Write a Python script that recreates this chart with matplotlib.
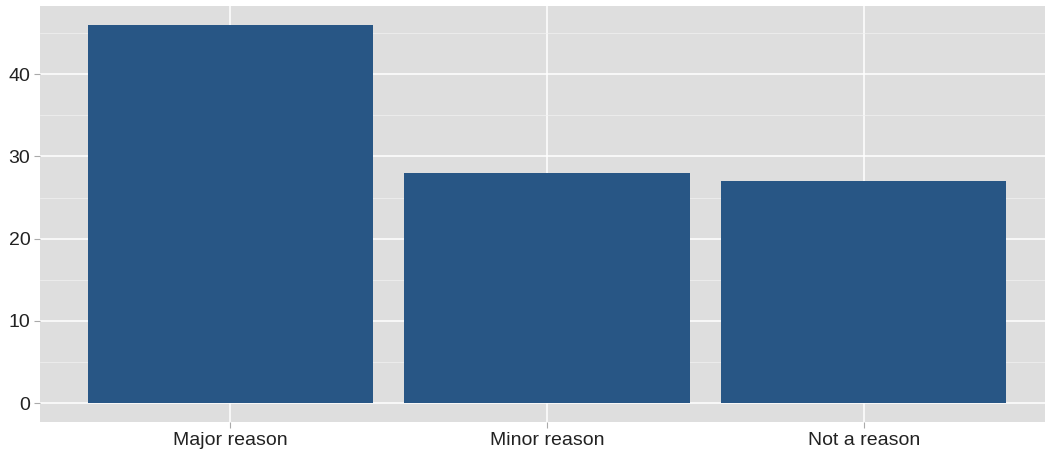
import numpy as np
import matplotlib.pyplot as plt

categories = ["Major reason", "Minor reason", "Not a reason"]
values = [46, 28, 27]

bar_color = "#285685"
panel_bg = "#DEDEDE"

plt.rcParams['font.family'] = ['Liberation Sans', 'DejaVu Sans']

fig = plt.figure(figsize=(10.45, 4.55), dpi=100)
# the panel runs a little past the right edge of the picture
ax = fig.add_axes([40 / 1045, 33 / 455, 1014 / 1045, 416 / 455])
ax.set_facecolor(panel_bg)

x = np.arange(1, len(categories) + 1)
ax.bar(x, values, width=0.9, color=bar_color, zorder=3)

ax.set_xlim(0.4, 3.6)
ax.set_ylim(-2.3, 48.3)
ax.set_xticks(x)
ax.set_xticklabels(categories)
ax.set_yticks([0, 10, 20, 30, 40])
ax.set_yticks([5, 15, 25, 35, 45], minor=True)

ax.grid(True, which="major", color="white", linewidth=1.1, zorder=0)
ax.grid(True, which="minor", axis="y", color="#F2F2F2", linewidth=0.5, zorder=0)
ax.set_axisbelow(True)

for s in ax.spines.values():
    s.set_visible(False)

ax.tick_params(axis="both", which="major", length=4, color="#AAAAAA",
               labelsize=14, labelcolor="#222222", pad=3)
ax.tick_params(axis="y", which="minor", length=0)

fig.savefig("out.png", dpi=100, facecolor="white")
